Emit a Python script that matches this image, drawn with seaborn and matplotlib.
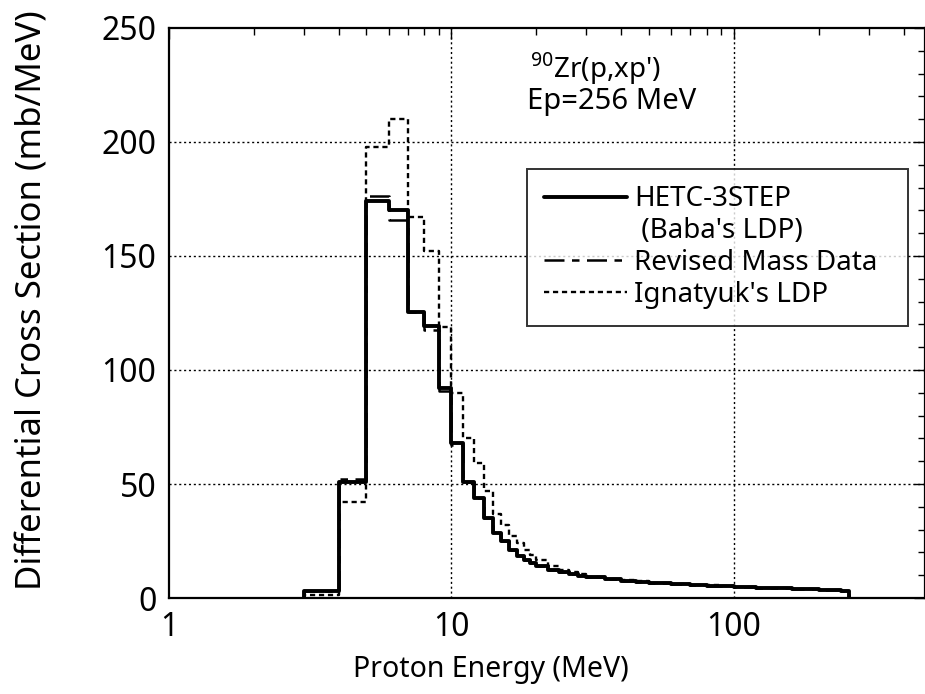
import numpy as np
import pandas as pd
import matplotlib
matplotlib.use("Agg")
import matplotlib.pyplot as plt
from matplotlib.lines import Line2D
from matplotlib.ticker import FixedLocator, MultipleLocator, NullFormatter
import seaborn as sns

# Energy bin edges (MeV)
edges = [3, 4, 5, 6, 7, 8, 9, 10, 11, 12, 13, 14, 15, 16, 17, 18, 19, 20,
         22, 24, 26, 28, 30, 35, 40, 45, 50, 60, 70, 80, 90, 100,
         120, 140, 160, 180, 200, 220, 240, 256]

# Differential cross sections (mb/MeV) per bin
hetc_baba = [3, 51, 174, 170, 125.5, 119.5, 92, 68, 51, 44, 35, 28.5, 25, 21,
             18.5, 16.5, 15.5, 14, 12.5, 11.5, 10.5, 9.8, 9.0, 8.2, 7.6, 7.1,
             6.6, 6.1, 5.7, 5.4, 5.1, 4.8, 4.5, 4.2, 4.0, 3.8, 3.6, 3.4, 3.2]
revised_mass = [3, 52, 176.5, 166, 125.5, 117.5, 91, 67, 51, 44, 35, 28.5, 25, 21,
                18.5, 16.5, 15.5, 14, 12.5, 11.5, 10.5, 9.8, 9.0, 8.2, 7.6, 7.1,
                6.6, 6.1, 5.7, 5.4, 5.1, 4.8, 4.5, 4.2, 4.0, 3.8, 3.6, 3.4, 3.2]
ignatyuk = [1.5, 42, 198, 210, 167, 152, 119, 90, 70, 59, 47, 37, 32, 27,
            24, 21, 19, 16.5, 14, 12.5, 11.2, 10.4, 9.4, 8.5, 7.8, 7.3,
            6.8, 6.2, 5.8, 5.5, 5.2, 4.9, 4.5, 4.2, 4.0, 3.8, 3.6, 3.4, 3.2]

sns.set_style("white")
plt.rcParams["font.family"] = ["Noto Sans", "DejaVu Sans"]
plt.rcParams["mathtext.fontset"] = "custom"
plt.rcParams["mathtext.rm"] = "Noto Sans"
plt.rcParams["text.color"] = "black"
plt.rcParams["axes.labelcolor"] = "black"
plt.rcParams["xtick.color"] = "black"
plt.rcParams["ytick.color"] = "black"


def step_frame(e, v):
    e = np.asarray(e, float)
    v = np.asarray(v, float)
    x = np.repeat(e, 2)
    y = np.concatenate([[0.0], np.repeat(v, 2), [0.0]])
    return pd.DataFrame({"E": x, "xs": y})


fig = plt.figure(figsize=(9.25, 6.94), dpi=100)
ax = fig.add_axes([0.1827, 0.1383, 0.8173, 0.8214])

styles = [
    dict(color="black", lw=2.8, linestyle="-"),
    dict(color="black", lw=1.8, dashes=(8, 3, 3, 3)),
    dict(color="black", lw=1.7, dashes=(2.2, 1.6)),
]
series = [hetc_baba, revised_mass, ignatyuk]

for vals, st in zip(series[::-1], styles[::-1]):
    df = step_frame(edges, vals)
    sns.lineplot(data=df, x="E", y="xs", sort=False, estimator=None, ax=ax, **st)

ax.set_xscale("log")
ax.set_xlim(1, 475)
ax.set_ylim(0, 250)

ax.xaxis.set_major_locator(FixedLocator([1, 10, 100]))
ax.xaxis.set_minor_locator(FixedLocator(
    [m * 10 ** k for k in range(0, 3) for m in range(2, 10)]))
ax.xaxis.set_minor_formatter(NullFormatter())
ax.set_xticklabels(["1", "10", "100"])
ax.yaxis.set_major_locator(MultipleLocator(50))
ax.yaxis.set_minor_locator(MultipleLocator(10))

ax.tick_params(which="both", direction="in", top=True, right=True,
               color="black", width=1.0)
ax.tick_params(which="major", length=8, labelsize=23, pad=9)
ax.tick_params(which="minor", length=5)

for sp in ax.spines.values():
    sp.set_color("black")
    sp.set_linewidth(1.6)

ax.grid(False)
for xv in [10, 100]:
    ax.axvline(xv, color="black", lw=1.0, linestyle=(0, (1.5, 2)), zorder=0)
for yv in [50, 100, 150, 200]:
    ax.axhline(yv, color="black", lw=1.0, linestyle=(0, (1.5, 2)), zorder=0)

ax.set_xlabel("Proton Energy (MeV)", fontsize=20.5)
ax.xaxis.set_label_coords(0.426, -0.1)
ax.set_ylabel("Differential Cross Section (mb/MeV)", fontsize=25)
ax.yaxis.set_label_coords(-0.158, 0.523)

ax.text(0.478, 0.96, r"$^{90}$Zr(p,xp')", transform=ax.transAxes,
        fontsize=20, va="top", ha="left")
ax.text(0.474, 0.897, "Ep=256 MeV", transform=ax.transAxes,
        fontsize=21, va="top", ha="left")

handles = [
    Line2D([], [], **styles[0]),
    Line2D([], [], color="none"),
    Line2D([], [], **styles[1]),
    Line2D([], [], **styles[2]),
]
leg_labels = ["HETC-3STEP", " (Baba's LDP)", "Revised Mass Data", "Ignatyuk's LDP"]
leg = ax.legend(handles, leg_labels, loc="upper left",
                bbox_to_anchor=(0.4735, 0.753, 0.504, 0.0), mode="expand",
                fontsize=20, frameon=True,
                fancybox=False, edgecolor="black", handlelength=3.0,
                handletextpad=0.25, borderpad=0.6, labelspacing=0.14,
                borderaxespad=0)
leg.get_frame().set_linewidth(1.4)

fig.savefig("out.png", dpi=100)
